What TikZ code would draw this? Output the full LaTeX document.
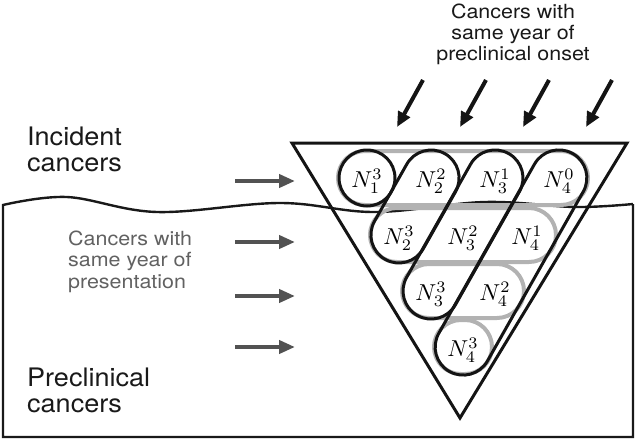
\documentclass[tikz,border=0pt]{standalone}
\usepackage{fontspec}
\setmainfont{TeX Gyre Heros}
\newfontfamily\smallfam{TeX Gyre Heros}[FakeStretch=1.1]
\newfontfamily\bigfam{TeX Gyre Heros}[FakeStretch=1.06]
\usetikzlibrary{arrows.meta,calc}
\newcommand{\cellN}[2]{\scalebox{2.3}{$N_{#1}^{#2}$}}
\begin{document}
\begin{tikzpicture}[x=1pt,y=-1pt,
  boxline/.style={line width=2.4pt, black!90},
  gpill/.style={draw=black!30, line width=4pt, rounded corners=27pt, minimum height=54pt, inner sep=0pt},
  bpill/.style={draw=black!92, line width=3pt, rounded corners=28pt, minimum height=56pt, inner sep=0pt},
  lab/.style={inner sep=0pt, yshift=-3pt},
  bigtext/.style={font=\bigfam\fontsize{25.5}{26}\selectfont, align=left, anchor=west, inner sep=0pt, text=black!90},
  toptext/.style={font=\smallfam\fontsize{19.5}{21}\selectfont, align=center, inner sep=0pt, text=black!90},
  graytext/.style={font=\smallfam\fontsize{19.5}{21.5}\selectfont, align=left, anchor=west, inner sep=0pt, text=black!62},
  toparrow/.style={line width=4pt, black!92, -{Triangle[length=15pt,width=13pt]}},
  leftarrow/.style={line width=4.5pt, black!68, -{Triangle[length=16pt,width=13pt]}}
]
\useasboundingbox (0,0) rectangle (635,440);

% lower box with wavy top
\draw[boxline] (633,204) -- (633,437) -- (3,437) -- (3,205)
  -- plot[smooth,tension=0.6] coordinates {(3,205) (67,197) (157,212) (280,203) (375,212) (485,202) (575,207) (633,204)};

% cell centres
\coordinate (c13) at (367,178);
\coordinate (c22) at (431,178);
\coordinate (c31) at (495,178);
\coordinate (c40) at (559,178);
\coordinate (c23) at (399,235);
\coordinate (c32) at (463,235);
\coordinate (c41) at (527,235);
\coordinate (c33) at (431,291);
\coordinate (c42) at (495,291);
\coordinate (c43) at (463,347);

% gray pills: same year of presentation
\node[gpill, minimum width=250pt] (g1) at (463,178) {};
\node[gpill, minimum width=186pt] (g2) at (463,235) {};
\node[gpill, minimum width=122pt] (g3) at (463,291) {};
\node[gpill, minimum width=58pt] (g4) at (463,347) {};

% black pills: same year of preclinical onset
\node[bpill, minimum width=56pt] (p1) at (c13) {};
\node[bpill, minimum width=121.4pt, rotate=60.5] (p2) at ($(c22)!0.5!(c23)$) {};
\node[bpill, minimum width=185.9pt, rotate=60.5] (p3) at ($(c31)!0.5!(c33)$) {};
\node[bpill, minimum width=250.4pt, rotate=60.5] (p4) at ($(c40)!0.5!(c43)$) {};

% triangle
\coordinate (tl) at (292,143);
\coordinate (tr) at (627,143);
\coordinate (tb) at (460,418);
\draw[line width=3pt, black!92, line join=miter] (tl) -- (tr) -- (tb) -- cycle;

% labels
\node[lab] (l13) at (c13) {\cellN{1}{3}};
\node[lab] (l22) at (c22) {\cellN{2}{2}};
\node[lab] (l31) at (c31) {\cellN{3}{1}};
\node[lab] (l40) at (c40) {\cellN{4}{0}};
\node[lab] (l23) at (c23) {\cellN{2}{3}};
\node[lab] (l32) at (c32) {\cellN{3}{2}};
\node[lab] (l41) at (c41) {\cellN{4}{1}};
\node[lab] (l33) at (c33) {\cellN{3}{3}};
\node[lab] (l42) at (c42) {\cellN{4}{2}};
\node[lab] (l43) at (c43) {\cellN{4}{3}};

% top arrows
\foreach \i/\x in {1/423,2/486,3/549,4/612}{
  \coordinate (ts\i) at (\x,80);
  \coordinate (te\i) at ({\x-26},127);
  \draw[toparrow] (ts\i) -- (te\i);
}

% left arrows
\foreach \i/\y in {1/181,2/242,3/296,4/347}{
  \coordinate (ls\i) at (235,\y);
  \coordinate (le\i) at (295,\y);
  \draw[leftarrow] (ls\i) -- (le\i);
}

% texts
\node[toptext] (onset) at (513,34) {Cancers with\\same year of\\preclinical onset};
\node[bigtext] (incident) at (27,149) {Incident\\cancers};
\node[graytext] (present) at (68,261.5) {Cancers with\\same year of\\presentation};
\node[bigtext] (precl) at (27,390.5) {Preclinical\\cancers};
\end{tikzpicture}
\end{document}
